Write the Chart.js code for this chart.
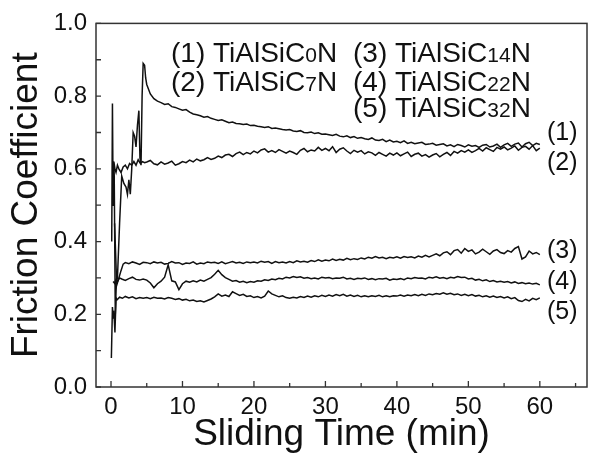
<!DOCTYPE html>
<html>
<head>
<meta charset="utf-8">
<title>Friction coefficient vs sliding time</title>
<script src="https://cdn.jsdelivr.net/npm/chart.js@4.4.0/dist/chart.umd.min.js"></script>
<style>
  html, body { margin: 0; padding: 0; background: #fff; }
  #wrap { width: 589px; height: 462px; }
</style>
</head>
<body>
<div id="wrap"><canvas id="friction" width="589" height="462"></canvas></div>
<script>
// coating names: TiAlSiC(x)N, x = carbon content
const seriesTags = ['(1)', '(2)', '(3)', '(4)', '(5)'];
const carbon = ['0', '7', '14', '22', '32'];

const xTickValues = [0, 10, 20, 30, 40, 50, 60];
const xMinorTicks = [5, 15, 25, 35, 45, 55, 65];
const yTickValues = [0, 0.2, 0.4, 0.6, 0.8, 1.0];
const yMinorTicks = [0.1, 0.3, 0.5, 0.7, 0.9];

// running-in part of each test (min, friction coefficient)
const headT1 = [0.3, 0.45, 0.6, 0.75, 0.9, 1.2, 1.5, 1.8, 2.1, 2.3, 2.5, 2.7, 2.9, 3.1, 3.3, 3.5, 3.7, 3.9, 4.05, 4.2, 4.35, 4.5, 4.7, 4.85];
const headV1 = [0.62, 0.58, 0.20, 0.29, 0.30, 0.45, 0.58, 0.56, 0.55, 0.53, 0.57, 0.53, 0.60, 0.70, 0.69, 0.66, 0.72, 0.76, 0.63, 0.61, 0.80, 0.89, 0.885, 0.85];
const headT2 = [0.1, 0.2, 0.3, 0.4, 0.55, 0.7, 0.9, 1.1, 1.4, 1.7, 2.0, 2.3, 2.6, 2.9, 3.2, 3.5, 3.8, 4.1, 4.4, 4.7];
const headV2 = [0.40, 0.78, 0.50, 0.62, 0.60, 0.59, 0.61, 0.60, 0.59, 0.605, 0.61, 0.60, 0.615, 0.61, 0.62, 0.61, 0.625, 0.615, 0.62, 0.617];
const headT3 = [0.5, 0.8, 1.1, 1.4, 1.7, 2.0, 2.5, 3.0, 3.5, 4.0, 4.5];
const headV3 = [0.45, 0.28, 0.30, 0.32, 0.338, 0.342, 0.339, 0.344, 0.341, 0.337, 0.343];
const headT4 = [0.3, 0.5, 0.7, 0.9, 1.2, 1.5, 2.0, 2.5, 3.0, 3.5, 4.0, 4.5];
const headV4 = [0.29, 0.285, 0.295, 0.29, 0.30, 0.297, 0.293, 0.298, 0.302, 0.296, 0.294, 0.297];
const headT5 = [0.05, 0.2, 0.3, 0.4, 0.55, 0.7, 0.85, 1.2, 1.6, 2.0, 2.5, 3.0, 3.5, 4.0, 4.5];
const headV5 = [0.08, 0.22, 0.19, 0.21, 0.15, 0.245, 0.24, 0.247, 0.244, 0.249, 0.245, 0.248, 0.243, 0.246, 0.244];

// steady sliding, sampled every half minute
const gridTime = [
  5, 5.5, 6, 6.5, 7, 7.5, 8, 8.5, 9, 9.5,
  10, 10.5, 11, 11.5, 12, 12.5, 13, 13.5, 14, 14.5,
  15, 15.5, 16, 16.5, 17, 17.5, 18, 18.5, 19, 19.5,
  20, 20.5, 21, 21.5, 22, 22.5, 23, 23.5, 24, 24.5,
  25, 25.5, 26, 26.5, 27, 27.5, 28, 28.5, 29, 29.5,
  30, 30.5, 31, 31.5, 32, 32.5, 33, 33.5, 34, 34.5,
  35, 35.5, 36, 36.5, 37, 37.5, 38, 38.5, 39, 39.5,
  40, 40.5, 41, 41.5, 42, 42.5, 43, 43.5, 44, 44.5,
  45, 45.5, 46, 46.5, 47, 47.5, 48, 48.5, 49, 49.5,
  50, 50.5, 51, 51.5, 52, 52.5, 53, 53.5, 54, 54.5,
  55, 55.5, 56, 56.5, 57, 57.5, 58, 58.5, 59, 59.5,
  60
];
const body1 = [
  0.832, 0.806, 0.793, 0.786, 0.782, 0.777, 0.779, 0.771, 0.769, 0.765,
  0.761, 0.763, 0.756, 0.751, 0.749, 0.746, 0.742, 0.744, 0.739, 0.736,
  0.733, 0.735, 0.731, 0.727, 0.729, 0.725, 0.724, 0.722, 0.723, 0.719,
  0.720, 0.717, 0.716, 0.714, 0.716, 0.711, 0.712, 0.710, 0.708, 0.707,
  0.708, 0.704, 0.703, 0.705, 0.700, 0.699, 0.701, 0.697, 0.699, 0.695,
  0.696, 0.694, 0.692, 0.695, 0.690, 0.688, 0.691, 0.686, 0.689, 0.684,
  0.686, 0.683, 0.681, 0.685, 0.679, 0.678, 0.681, 0.675, 0.679, 0.674,
  0.676, 0.672, 0.677, 0.670, 0.673, 0.669, 0.671, 0.673, 0.667, 0.668,
  0.670, 0.665, 0.667, 0.669, 0.663, 0.666, 0.661, 0.667, 0.664, 0.660,
  0.666, 0.662, 0.664, 0.659, 0.665, 0.667, 0.660, 0.663, 0.668, 0.659,
  0.666, 0.670, 0.662, 0.668, 0.671, 0.660, 0.669, 0.673, 0.664, 0.670,
  0.667
];
const body2 = [
  0.619, 0.623, 0.614, 0.611, 0.619, 0.613, 0.616, 0.621, 0.610, 0.614,
  0.620, 0.617, 0.624, 0.619, 0.627, 0.622, 0.625, 0.631, 0.626, 0.629,
  0.635, 0.631, 0.638, 0.640, 0.634, 0.642, 0.646, 0.639, 0.645, 0.641,
  0.649, 0.644, 0.652, 0.655, 0.646, 0.650, 0.645, 0.653, 0.648, 0.643,
  0.649, 0.645, 0.640, 0.651, 0.656, 0.647, 0.652, 0.649, 0.659, 0.651,
  0.656, 0.650, 0.661, 0.645, 0.654, 0.658, 0.649, 0.642, 0.651, 0.646,
  0.650, 0.641, 0.647, 0.644, 0.637, 0.645, 0.640, 0.635, 0.643, 0.638,
  0.644, 0.636, 0.641, 0.646, 0.634, 0.640, 0.643, 0.635, 0.639, 0.632,
  0.638, 0.642, 0.633, 0.640, 0.645, 0.637, 0.648, 0.643, 0.650, 0.646,
  0.652, 0.645, 0.650, 0.656, 0.649, 0.658, 0.653, 0.648, 0.659, 0.654,
  0.660, 0.652, 0.657, 0.663, 0.651, 0.659, 0.662, 0.654, 0.664, 0.650,
  0.657
];
const body3 = [
  0.342, 0.339, 0.344, 0.341, 0.343, 0.338, 0.340, 0.345, 0.341, 0.342,
  0.337, 0.341, 0.340, 0.344, 0.338, 0.341, 0.339, 0.344, 0.342, 0.343,
  0.340, 0.344, 0.339, 0.342, 0.345, 0.341, 0.343, 0.340, 0.344, 0.342,
  0.344, 0.341, 0.346, 0.343, 0.345, 0.340, 0.345, 0.342, 0.344, 0.341,
  0.345, 0.342, 0.347, 0.344, 0.346, 0.343, 0.348, 0.345, 0.350, 0.346,
  0.349, 0.347, 0.352, 0.348, 0.351, 0.349, 0.354, 0.350, 0.353, 0.351,
  0.355, 0.352, 0.357, 0.354, 0.359, 0.355, 0.357, 0.353, 0.357, 0.355,
  0.358, 0.354, 0.359, 0.356, 0.358, 0.355, 0.360, 0.357, 0.362, 0.358,
  0.362, 0.366, 0.361, 0.369, 0.372, 0.364, 0.375, 0.378, 0.368, 0.381,
  0.373, 0.377, 0.366, 0.371, 0.379, 0.372, 0.365, 0.374, 0.378, 0.370,
  0.367, 0.375, 0.371, 0.381, 0.386, 0.352, 0.358, 0.374, 0.366, 0.370,
  0.364
];
const body4 = [
  0.294, 0.286, 0.273, 0.284, 0.291, 0.302, 0.336, 0.292, 0.289, 0.268,
  0.284, 0.291, 0.288, 0.292, 0.289, 0.294, 0.291, 0.296, 0.301, 0.310,
  0.321, 0.309, 0.301, 0.296, 0.291, 0.293, 0.288, 0.291, 0.287, 0.290,
  0.288, 0.292, 0.291, 0.295, 0.293, 0.297, 0.295, 0.299, 0.297, 0.302,
  0.300, 0.304, 0.301, 0.303, 0.299, 0.301, 0.298, 0.300, 0.297, 0.302,
  0.300, 0.301, 0.298, 0.300, 0.299, 0.302, 0.297, 0.299, 0.296, 0.299,
  0.298, 0.300, 0.296, 0.298, 0.295, 0.298, 0.297, 0.299, 0.294, 0.297,
  0.296, 0.298, 0.295, 0.300, 0.298, 0.301, 0.299, 0.300, 0.297, 0.302,
  0.300, 0.303, 0.299, 0.301, 0.298, 0.302, 0.300, 0.304, 0.301, 0.302,
  0.297, 0.299, 0.294, 0.296, 0.292, 0.295, 0.290, 0.293, 0.289, 0.291,
  0.288, 0.290, 0.286, 0.289, 0.285, 0.287, 0.284, 0.286, 0.283, 0.285,
  0.281
];
const body5 = [
  0.246, 0.243, 0.247, 0.244, 0.245, 0.242, 0.246, 0.244, 0.241, 0.243,
  0.239, 0.241, 0.237, 0.239, 0.235, 0.237, 0.234, 0.238, 0.242, 0.248,
  0.256, 0.250, 0.253, 0.249, 0.262, 0.257, 0.252, 0.255, 0.249, 0.251,
  0.246, 0.249, 0.245, 0.250, 0.264, 0.256, 0.252, 0.248, 0.251, 0.246,
  0.244, 0.247, 0.245, 0.249, 0.246, 0.250, 0.247, 0.251, 0.248, 0.252,
  0.249, 0.253, 0.250, 0.254, 0.251, 0.255, 0.250, 0.253, 0.249, 0.252,
  0.248, 0.251, 0.248, 0.251, 0.249, 0.252, 0.248, 0.251, 0.248, 0.251,
  0.250, 0.253, 0.250, 0.253, 0.251, 0.254, 0.251, 0.255, 0.252, 0.256,
  0.254, 0.257, 0.255, 0.259, 0.255, 0.258, 0.254, 0.256, 0.252, 0.255,
  0.251, 0.254, 0.250, 0.252, 0.248, 0.251, 0.247, 0.250, 0.246, 0.249,
  0.245, 0.248, 0.243, 0.246, 0.238, 0.235, 0.241, 0.237, 0.244, 0.240,
  0.245
];

function joinSeries(headT, headV, body) {
  const pts = headT.map((t, i) => ({ x: t, y: headV[i] }));
  body.forEach((v, i) => pts.push({ x: gridTime[i], y: v }));
  return pts;
}

const FONT = '"Liberation Sans", Arial, Helvetica, sans-serif';
const INK = '#111';

const series = [
  joinSeries(headT1, headV1, body1),
  joinSeries(headT2, headV2, body2),
  joinSeries(headT3, headV3, body3),
  joinSeries(headT4, headV4, body4),
  joinSeries(headT5, headV5, body5)
];

// "(n) TiAlSiC" + small carbon number + "N"
function drawName(ctx, x, y, tag, c, size) {
  ctx.textAlign = 'left';
  ctx.textBaseline = 'alphabetic';
  ctx.font = size + 'px ' + FONT;
  const head = tag + ' TiAlSiC';
  ctx.fillText(head, x, y);
  x += ctx.measureText(head).width;
  ctx.font = Math.round(size * 0.74) + 'px ' + FONT;
  ctx.fillText(c, x, y);
  x += ctx.measureText(c).width;
  ctx.font = size + 'px ' + FONT;
  ctx.fillText('N', x, y);
}

const frameAndLabels = {
  id: 'frameAndLabels',
  afterDraw(chart) {
    const { ctx, chartArea: a, scales: { x, y } } = chart;
    ctx.save();
    ctx.strokeStyle = '#333';
    ctx.lineWidth = 1.5;
    ctx.strokeRect(a.left, a.top, a.right - a.left, a.bottom - a.top);

    // ticks point into the plot
    ctx.lineWidth = 1.3;
    ctx.beginPath();
    xTickValues.forEach(v => { const px = x.getPixelForValue(v); ctx.moveTo(px, a.bottom); ctx.lineTo(px, a.bottom - 6); });
    xMinorTicks.forEach(v => { const px = x.getPixelForValue(v); ctx.moveTo(px, a.bottom); ctx.lineTo(px, a.bottom - 4); });
    yTickValues.forEach(v => { const py = y.getPixelForValue(v); ctx.moveTo(a.left, py); ctx.lineTo(a.left + 5, py); });
    yMinorTicks.forEach(v => { const py = y.getPixelForValue(v); ctx.moveTo(a.left, py); ctx.lineTo(a.left + 5, py); });
    ctx.stroke();

    ctx.fillStyle = INK;
    const legendPos = [[171, 62], [171, 91], [353, 62], [353, 91], [353, 117]];
    seriesTags.forEach((tag, i) => drawName(ctx, legendPos[i][0], legendPos[i][1], tag, carbon[i], 28));

    // curve tags at the right end
    const tagY = [133, 163, 251, 282, 312];
    ctx.font = '25px ' + FONT;
    ctx.textAlign = 'left';
    ctx.textBaseline = 'middle';
    seriesTags.forEach((tag, i) => ctx.fillText(tag, 547, tagY[i]));
    ctx.restore();
  }
};

Chart.defaults.color = INK;
Chart.defaults.font.family = FONT;

new Chart(document.getElementById('friction'), {
  type: 'line',
  data: {
    datasets: series.map((pts, i) => ({
      label: 'TiAlSiC' + carbon[i] + 'N',
      data: pts,
      borderColor: '#111',
      borderWidth: 1.5,
      pointRadius: 0,
      tension: 0,
      fill: false
    }))
  },
  options: {
    responsive: false,
    animation: false,
    devicePixelRatio: 1,
    layout: { padding: { top: 21, right: 2, left: 0, bottom: 0 } },
    plugins: { legend: { display: false }, tooltip: { enabled: false } },
    scales: {
      x: {
        type: 'linear',
        min: -2.1,
        max: 66.6,
        afterBuildTicks: s => { s.ticks = xTickValues.map(value => ({ value })); },
        afterFit: s => { s.height = 75; },
        grid: { display: false, drawTicks: false },
        border: { display: false },
        ticks: { font: { size: 24 }, padding: 6, maxRotation: 0, autoSkip: false, color: INK },
        title: { display: true, text: 'Sliding Time (min)', font: { size: 37, lineHeight: 1 }, padding: { top: 0, bottom: 9 }, color: INK }
      },
      y: {
        min: 0,
        max: 1,
        afterBuildTicks: s => { s.ticks = yTickValues.map(value => ({ value })); },
        afterFit: s => { s.width = 96; },
        grid: { display: false, drawTicks: false },
        border: { display: false },
        ticks: { font: { size: 24 }, padding: 9, color: INK, callback: v => v.toFixed(1) },
        title: { display: true, text: 'Friction Coefficient', font: { size: 37, lineHeight: 1 }, padding: { top: 8, bottom: 0 }, color: INK }
      }
    }
  },
  plugins: [frameAndLabels]
});
</script>
</body>
</html>
